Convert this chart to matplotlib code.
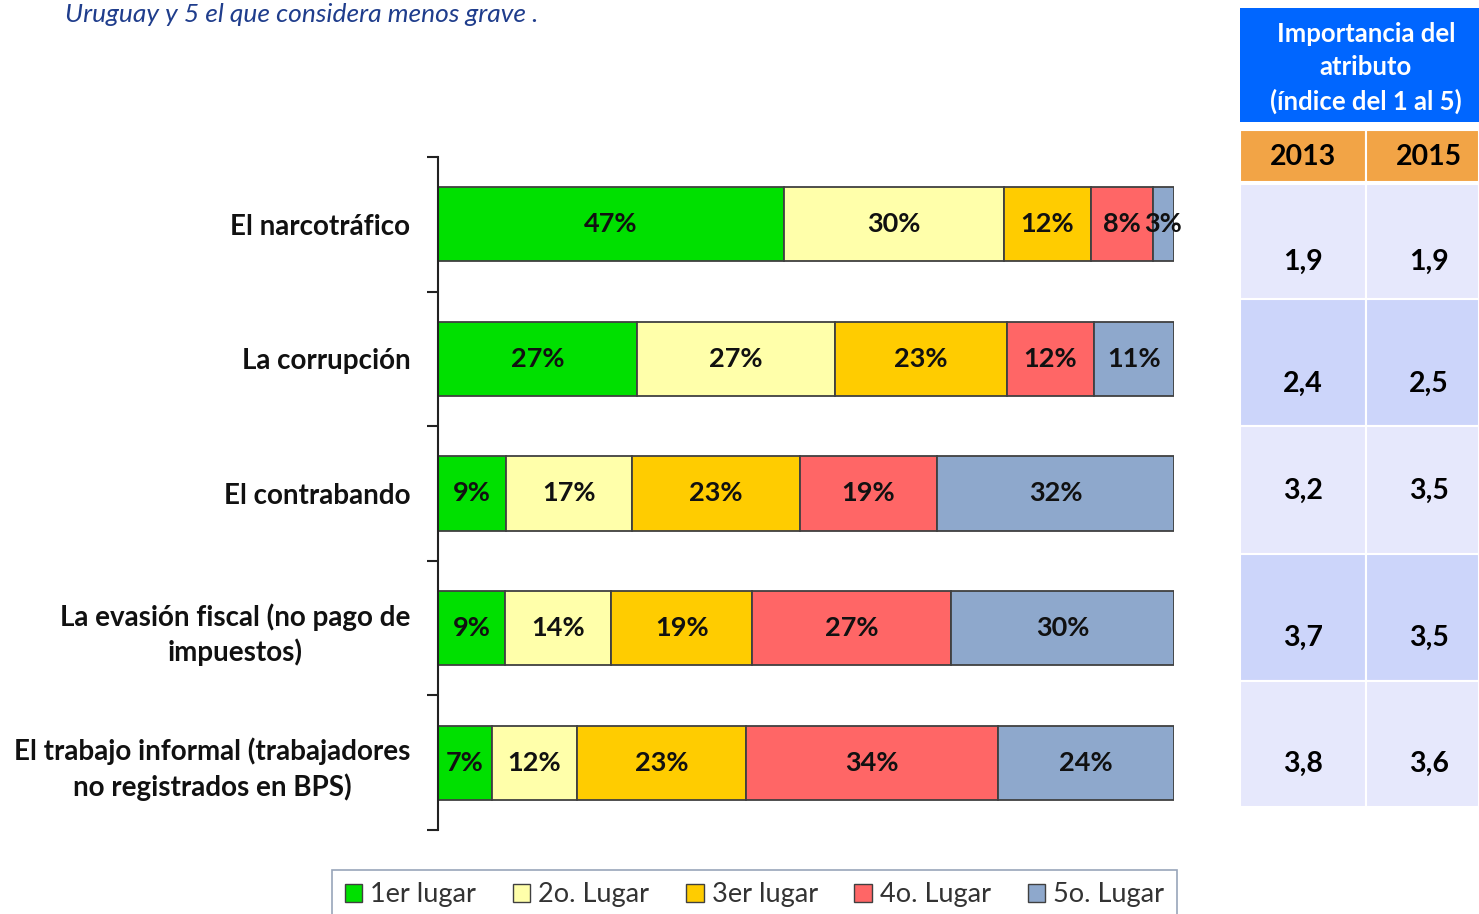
import matplotlib
matplotlib.use("Agg")
from matplotlib import pyplot as plt
from matplotlib.patches import Rectangle, Patch

plt.rcParams['font.family'] = ['Lato', 'DejaVu Sans']

# datos del grafico
categories = ['El narcotráfico', 'La corrupción', 'El contrabando',
              'La evasión fiscal (no pago de\nimpuestos)',
              'El trabajo informal (trabajadores\nno registrados en BPS)']
series_names = ['1er lugar', '2o. Lugar', '3er lugar', '4o. Lugar', '5o. Lugar']
series_colors = ['#00E000', '#FFFFAA', '#FFCC00', '#FF6666', '#8EA8CC']
# porcentaje por categoria, una lista por lugar
lugar1 = [47.0, 27.0, 9.2, 9.1, 7.3]
lugar2 = [29.9, 26.9, 17.1, 14.4, 11.6]
lugar3 = [11.8, 23.4, 22.9, 19.2, 22.9]
lugar4 = [8.4, 11.8, 18.6, 27.0, 34.3]
lugar5 = [2.9, 10.9, 32.2, 30.3, 23.9]
series_vals = [lugar1, lugar2, lugar3, lugar4, lugar5]

# tabla de importancia
years = ['2013', '2015']
idx_2013 = ['1,9', '2,4', '3,2', '3,7', '3,8']
idx_2015 = ['1,9', '2,5', '3,5', '3,5', '3,6']

W, H = 1479, 914
fig = plt.figure(figsize=(W / 100, H / 100), dpi=100)
fig.patch.set_facecolor('white')

# titulo (cortado arriba)
fig.text(65 / W, 1 - 22 / H, 'Uruguay y 5 el que considera menos grave .',
         fontsize=19, style='italic', color='#1F3D8C', va='baseline')

ax = fig.add_axes([438 / W, 1 - 830 / H, 736 / W, 673 / H])
y = list(range(len(categories)))
left = [0] * len(categories)
for name, col, vals in zip(series_names, series_colors, series_vals):
    ax.barh(y, vals, left=left, height=0.55, color=col, edgecolor='#404040',
            linewidth=1.3, label=name)
    for yi, l, v in zip(y, left, vals):
        ax.text(l + v / 2, yi, f'{v:.0f}%', ha='center', va='center',
                fontsize=19.5, fontweight='bold', color='#111111')
    left = [a + b for a, b in zip(left, vals)]

ax.set_xlim(0, 100)
ax.set_ylim(len(categories) - 0.5, -0.5)
for s in ['top', 'right', 'bottom']:
    ax.spines[s].set_visible(False)
ax.spines['left'].set_linewidth(1.5)
ax.spines['left'].set_color('#222222')
ax.set_xticks([])
ax.set_yticks(y)
ax.set_yticklabels(categories, fontsize=20, fontweight='bold', color='#111111',
                   multialignment='center', linespacing=1.35)
for lab in ax.get_yticklabels():
    lab.set_y(lab.get_position()[1])
ax.tick_params(axis='y', which='major', length=0, pad=20)
ax.set_yticks([i - 0.5 for i in range(len(categories) + 1)], minor=True)
ax.tick_params(axis='y', which='minor', length=8, width=1.5, color='#222222')
ax.patch.set_alpha(0)

# leyenda (cortada abajo)
handles = [Patch(facecolor=c, edgecolor='#404040', label=n)
           for n, c in zip(series_names, series_colors)]
leg = fig.legend(handles=handles, loc='upper center', ncol=5,
                 bbox_to_anchor=(754.5 / W, 1 - 870 / H), fontsize=19.5,
                 frameon=True, fancybox=False, handlelength=0.65,
                 handleheight=0.65, handletextpad=0.3, columnspacing=1.35,
                 borderpad=0.45, borderaxespad=0)
leg.get_frame().set_edgecolor('#7F8FA8')
leg.get_frame().set_linewidth(1.2)
for t in leg.get_texts():
    t.set_color('#333333')

# tabla a la derecha, en coordenadas de pixel
tx = fig.add_axes([0, 0, 1, 1])
tx.set_xlim(0, W)
tx.set_ylim(H, 0)
tx.axis('off')
tx.patch.set_alpha(0)

tx.add_patch(Rectangle((1240, 8), W - 1240, 114, facecolor='#0066FF', edgecolor='none'))
tx.text(1366, 68, 'Importancia del\natributo\n(índice del 1 al 5)', ha='center',
        va='center', fontsize=18.5, fontweight='bold', color='white',
        linespacing=1.45)

col_x = [1240, 1366]
col_w = [126, W - 1366]
for cx, cw, yr in zip(col_x, col_w, years):
    tx.add_patch(Rectangle((cx, 130), cw, 52, facecolor='#F2A446',
                           edgecolor='white', linewidth=1.5))
    tx.text(cx + 63, 157, yr, ha='center', va='center', fontsize=20.5,
            fontweight='bold', color='black')

row_tops = [184, 299, 426, 554, 681, 807]
text_off = [78, 85, 65, 84, 83]
row_colors = ['#E6E8FC', '#CCD5FA']
for i, (a, b) in enumerate(zip(idx_2013, idx_2015)):
    top = row_tops[i]
    rh = row_tops[i + 1] - top
    fc = row_colors[i % 2]
    for cx, cw, val in zip(col_x, col_w, [a, b]):
        tx.add_patch(Rectangle((cx, top), cw, rh, facecolor=fc,
                               edgecolor='white', linewidth=1.5))
        tx.text(cx + 63, top + text_off[i], val, ha='center', va='center',
                fontsize=20.5, fontweight='bold', color='black')

fig.savefig('out.png', dpi=100)
